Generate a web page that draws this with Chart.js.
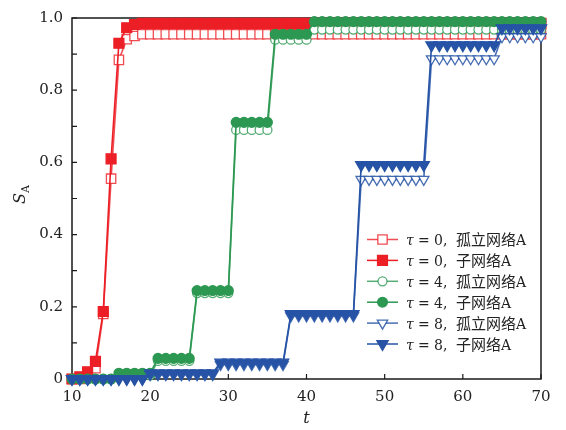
<!DOCTYPE html>
<html><head><meta charset="utf-8">
<script src="https://cdn.jsdelivr.net/npm/chart.js@4/dist/chart.umd.min.js"></script>
<style>html,body{margin:0;padding:0;background:#fff;}</style>
</head><body>
<canvas id="c" width="566" height="430"></canvas>
<script>
const tValues = [10,11,12,13,14,15,16,17,18,19,
  20,21,22,23,24,25,26,27,28,29,
  30,31,32,33,34,35,36,37,38,39,
  40,41,42,43,44,45,46,47,48,49,
  50,51,52,53,54,55,56,57,58,59,
  60,61,62,63,64,65,66,67,68,69,
  70];

const redHollow = [0,0,0.005,0.03,0.18,0.555,0.884,0.941,0.95,0.955,
  0.955,0.955,0.955,0.955,0.955,0.955,0.955,0.955,0.955,0.955,
  0.955,0.955,0.955,0.955,0.955,0.955,0.955,0.955,0.955,0.955,
  0.955,0.955,0.955,0.955,0.955,0.955,0.955,0.955,0.955,0.955,
  0.955,0.955,0.955,0.955,0.955,0.955,0.955,0.955,0.955,0.955,
  0.955,0.955,0.955,0.955,0.955,0.955,0.955,0.955,0.955,0.955,
  0.955];
const redFilled = [0,0.006,0.02,0.049,0.187,0.61,0.93,0.973,0.982,0.985,
  0.985,0.985,0.985,0.985,0.985,0.985,0.985,0.985,0.985,0.985,
  0.985,0.985,0.985,0.985,0.985,0.985,0.985,0.985,0.985,0.985,
  0.985,0.985,0.985,0.985,0.985,0.985,0.985,0.985,0.985,0.985,
  0.985,0.985,0.985,0.985,0.985,0.985,0.985,0.985,0.985,0.985,
  0.985,0.985,0.985,0.985,0.985,0.985,0.985,0.985,0.985,0.985,
  0.985];
const greenHollow = [0,0,0,0,0,0,0.01,0.01,0.01,0.01,
  0.01,0.05,0.05,0.05,0.05,0.05,0.238,0.238,0.238,0.238,
  0.238,0.69,0.69,0.69,0.69,0.69,0.94,0.94,0.94,0.94,
  0.94,0.968,0.968,0.968,0.968,0.968,0.968,0.968,0.968,0.968,
  0.968,0.968,0.968,0.968,0.968,0.968,0.968,0.968,0.968,0.968,
  0.968,0.968,0.968,0.968,0.968,0.968,0.968,0.968,0.968,0.968,
  0.968];
const greenFilled = [0,0,0,0,0,0,0.016,0.016,0.016,0.016,
  0.016,0.057,0.057,0.057,0.057,0.057,0.245,0.245,0.245,0.245,
  0.245,0.711,0.711,0.711,0.711,0.711,0.955,0.955,0.955,0.955,
  0.955,0.99,0.99,0.99,0.99,0.99,0.99,0.99,0.99,0.99,
  0.99,0.99,0.99,0.99,0.99,0.99,0.99,0.99,0.99,0.99,
  0.99,0.99,0.99,0.99,0.99,0.99,0.99,0.99,0.99,0.99,
  0.99];
const blueHollow = [0,0,0,0,0,0,0,0,0,0,
  0.012,0.012,0.012,0.012,0.012,0.012,0.012,0.012,0.012,0.04,
  0.04,0.04,0.04,0.04,0.04,0.04,0.04,0.04,0.175,0.175,
  0.175,0.175,0.175,0.175,0.175,0.175,0.175,0.553,0.553,0.553,
  0.553,0.553,0.553,0.553,0.553,0.553,0.887,0.887,0.887,0.887,
  0.887,0.887,0.887,0.887,0.887,0.948,0.948,0.948,0.948,0.948,
  0.948];
const blueFilled = [0,0,0,0,0,0,0,0,0,0,
  0.016,0.016,0.016,0.016,0.016,0.016,0.016,0.016,0.016,0.046,
  0.046,0.046,0.046,0.046,0.046,0.046,0.046,0.046,0.18,0.18,
  0.18,0.18,0.18,0.18,0.18,0.18,0.18,0.593,0.593,0.593,
  0.593,0.593,0.593,0.593,0.593,0.593,0.925,0.925,0.925,0.925,
  0.925,0.925,0.925,0.925,0.925,0.972,0.972,0.972,0.972,0.972,
  0.972];

const xTickValues = [10,20,30,40,50,60,70];
const yTickLabels = ['0','0.2','0.4','0.6','0.8','1.0'];
const legendTau = ['0','0','4','4','8','8'];
const legendNames = ['孤立网络','子网络','孤立网络','子网络','孤立网络','子网络'];
const legendSuffix = 'A';
const xTitle = 't';
const yTitleMain = 'S';
const yTitleSub = 'A';

const RED = '#ec1f26', RED_L = 'rgba(236,31,38,0.8)';
const GREEN = '#2c9852', GREEN_L = 'rgba(44,152,82,0.8)';
const BLUE = '#2653a6', BLUE_L = 'rgba(38,83,166,0.85)';

function pts(arr){ return tValues.map((t,i)=>({x:t,y:arr[i]})); }

const styles = [
  {data:redHollow, color:RED_L, shape:'rect', filled:false, r:6.6, order:6},
  {data:redFilled, color:RED, shape:'rect', filled:true, r:7.0, order:5},
  {data:greenHollow, color:GREEN_L, shape:'circle', filled:false, r:4.5, order:4},
  {data:greenFilled, color:GREEN, shape:'circle', filled:true, r:4.9, order:3},
  {data:blueHollow, color:BLUE_L, shape:'triangle', filled:false, r:6.0, order:2},
  {data:blueFilled, color:BLUE, shape:'triangle', filled:true, r:6.5, order:1}
];

const datasets = styles.map((s,i)=>({
  label: 'τ = ' + legendTau[i] + ', ' + legendNames[i] + legendSuffix,
  data: pts(s.data),
  borderColor: s.color,
  backgroundColor: s.filled ? s.color : '#ffffff',
  borderWidth: 1.6,
  pointStyle: s.shape,
  pointRadius: s.r,
  pointRotation: s.shape==='triangle' ? 180 : 0,
  pointBorderColor: s.color,
  pointBackgroundColor: s.filled ? s.color : '#ffffff',
  pointBorderWidth: 1.3,
  tension: 0,
  fill: false,
  clip: false,
  order: s.order
}));

const FONT_LEG = '14px "DejaVu Serif", serif';
const FONT_LEG_CJK = '15px "Noto Sans CJK SC"';
const FONT_LEG_I = 'italic 14px "DejaVu Serif", serif';

function drawMarker(ctx, s, x, y){
  ctx.save();
  ctx.strokeStyle = s.color; ctx.lineWidth = 1.3;
  ctx.fillStyle = s.filled ? s.color : '#ffffff';
  ctx.beginPath();
  if (s.shape==='rect'){ const h = s.r*Math.SQRT1_2; ctx.rect(x-h,y-h,2*h,2*h); }
  else if (s.shape==='circle'){ ctx.arc(x,y,s.r,0,Math.PI*2); }
  else { const r=s.r; ctx.moveTo(x, y+r); ctx.lineTo(x-r*0.866, y-r/2); ctx.lineTo(x+r*0.866, y-r/2); ctx.closePath(); }
  ctx.fill(); ctx.stroke();
  ctx.restore();
}

const framePlugin = {
  id:'frame',
  beforeDatasetsDraw(chart){
    const {ctx, chartArea:a, scales:{x,y}} = chart;
    ctx.save();
    ctx.strokeStyle='#1a1a1a'; ctx.lineWidth=1.5;
    ctx.strokeRect(a.left, a.top, a.right-a.left, a.bottom-a.top);
    ctx.lineWidth=1.2;
    ctx.beginPath();
    x.ticks.forEach(t=>{const px=x.getPixelForValue(t.value); ctx.moveTo(px,a.bottom); ctx.lineTo(px,a.bottom-5);});
    y.ticks.forEach(t=>{const py=y.getPixelForValue(t.value); ctx.moveTo(a.left,py); ctx.lineTo(a.left+5,py);});
    ctx.stroke();
    ctx.restore();
  },
  afterDraw(chart){
    const {ctx, chartArea:a} = chart;
    ctx.save();
    const x0 = 367, x1 = 398, y0 = 239.5, dy = 20.9;
    styles.forEach((s,i)=>{
      const yy = y0 + i*dy;
      ctx.strokeStyle = s.color; ctx.lineWidth = 1.5;
      ctx.beginPath(); ctx.moveTo(x0,yy); ctx.lineTo(x1,yy); ctx.stroke();
      drawMarker(ctx, s, (x0+x1)/2, yy);
      const base = yy + 5.5;
      ctx.fillStyle = '#222'; ctx.textBaseline = 'alphabetic'; ctx.textAlign='left';
      ctx.font = FONT_LEG_I; ctx.fillText('τ', 406, base);
      ctx.font = FONT_LEG;
      ctx.fillText('=', 418, base);
      ctx.fillText(legendTau[i] + ',', 434, base);
      ctx.font = FONT_LEG_CJK;
      ctx.fillText(legendNames[i], 456, base);
      const w = ctx.measureText(legendNames[i]).width;
      ctx.font = FONT_LEG;
      ctx.fillText(legendSuffix, 456 + w, base);
    });
    ctx.fillStyle = '#222';
    ctx.font = 'italic 16px "DejaVu Serif", serif';
    ctx.textAlign = 'center'; ctx.textBaseline='alphabetic';
    ctx.fillText(xTitle, (a.left+a.right)/2, 423);
    ctx.translate(25, 196);
    ctx.rotate(-Math.PI/2);
    ctx.textAlign='left';
    ctx.font = 'italic 16px "DejaVu Serif", serif';
    ctx.fillText(yTitleMain, -8, 0);
    const w = ctx.measureText(yTitleMain).width;
    ctx.font = '11px "DejaVu Serif", serif';
    ctx.fillText(yTitleSub, -8 + w, 4);
    ctx.restore();
  }
};

new Chart(document.getElementById('c'), {
  type:'line',
  data:{datasets},
  options:{
    responsive:false, animation:false, devicePixelRatio:1,
    layout:{padding:{top:10, right:25, left:0, bottom:0}},
    plugins:{legend:{display:false}, tooltip:{enabled:false}},
    scales:{
      x:{type:'linear', min:10, max:70,
        afterBuildTicks: s=>{ s.ticks = xTickValues.map(v=>({value:v})); },
        ticks:{font:{family:'"DejaVu Serif", serif', size:15}, color:'#222', padding:9, maxRotation:0, autoSkip:false},
        grid:{display:false, drawTicks:false}, border:{display:false},
        afterFit: s=>{ s.height = 51; }
      },
      y:{min:0, max:1,
        ticks:{stepSize:0.1, autoSkip:false, font:{family:'"DejaVu Serif", serif', size:15}, color:'#222', padding:9,
          callback:(v)=>{ const k=Math.round(v*10); return k%2 ? '' : yTickLabels[k/2]; }},
        grid:{display:false, drawTicks:false}, border:{display:false},
        afterFit: s=>{ s.width = 72; }
      }
    }
  },
  plugins:[framePlugin]
});
</script>
</body></html>
